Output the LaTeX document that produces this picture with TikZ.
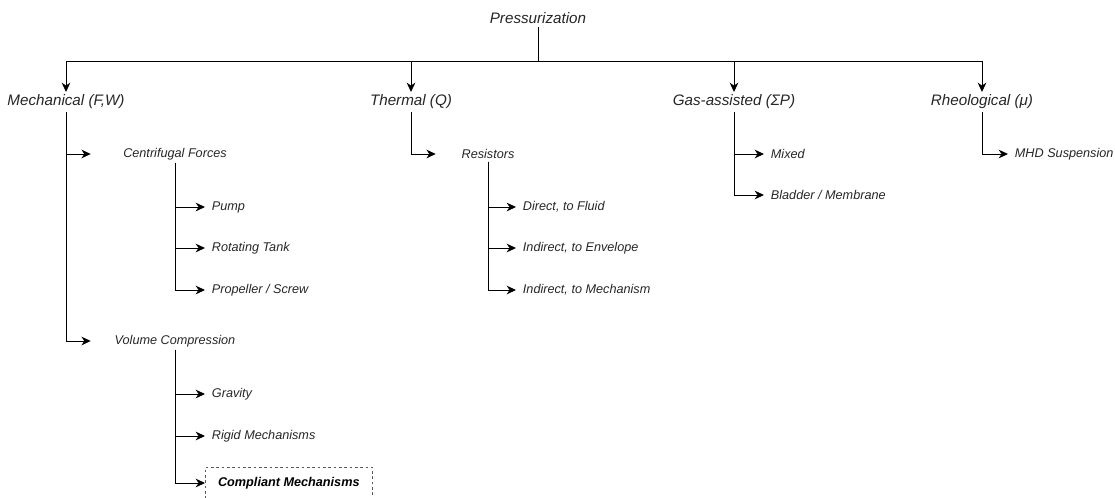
\documentclass[tikz,border=0pt]{standalone}
\usepackage{fontspec}
\setmainfont{Liberation Sans}
\usetikzlibrary{arrows.meta}

\begin{document}
\begin{tikzpicture}[x=0.75pt,y=0.75pt,yscale=-1,xscale=1,
	arr/.style={-{Stealth[length=7pt,width=6.5pt,inset=2.2pt]},line width=0.75pt},
	top/.style={font=\fontsize{11.4}{13}\selectfont\itshape,text=black!85,inner sep=2pt},
	mid/.style={font=\fontsize{9.5}{11}\selectfont\itshape,text=black!85,inner sep=2pt},
	leaf/.style={mid,anchor=west,inner xsep=5pt}]
	\useasboundingbox (0,0) rectangle (1115,497);
	
	%level 0 and 1
	\node [top] (press) at (538,18) {Pressurization};
	\coordinate (bus) at (538,61);
	\node [top] (mech) at (66,102) {Mechanical (F,W)};
	\node [top] (therm) at (411,102) {Thermal (Q)};
	\node [top] (gas) at (734,102) {Gas-assisted (ΣP)};
	\node [top] (rheo) at (982,102) {Rheological (μ)};
	
	\draw [line width=0.75pt] (press.south) -- (bus);
	\draw [arr] (bus) -| (mech.north);
	\draw [arr] (bus) -| (therm.north);
	\draw [arr] (bus) -| (gas.north);
	\draw [arr] (bus) -| (rheo.north);
	
	%mechanical
	\node [mid,minimum width=126pt] (cent) at (175,154) {Centrifugal Forces};
	\node [mid,minimum width=126pt] (volc) at (175,341) {Volume Compression};
	\draw [arr] (mech.south) |- (cent.west);
	\draw [arr] (mech.south) |- (volc.west);
	
	\node [leaf] (pump) at (205,207) {Pump};
	\node [leaf] (tank) at (205,248) {Rotating Tank};
	\node [leaf] (prop) at (205,290) {Propeller / Screw};
	\draw [arr] (cent.south) |- (pump.west);
	\draw [arr] (cent.south) |- (tank.west);
	\draw [arr] (cent.south) |- (prop.west);
	
	\node [leaf] (grav) at (205,394) {Gravity};
	\node [leaf] (rigid) at (205,436) {Rigid Mechanisms};
	\node [mid,anchor=west,draw=black!65,dash pattern=on 2pt off 2pt,line width=0.75pt,
		minimum width=125pt,minimum height=24pt,font=\fontsize{9.5}{11}\selectfont\itshape\bfseries,text=black]
		(compl) at (205,483) {Compliant Mechanisms};
	\draw [arr] (volc.south) |- (grav.west);
	\draw [arr] (volc.south) |- (rigid.west);
	\draw [arr] (volc.south) |- (compl.west);
	
	%thermal
	\node [mid,minimum width=78pt] (res) at (488,154) {Resistors};
	\draw [arr] (therm.south) |- (res.west);
	\node [leaf] (fluid) at (516,207) {Direct, to Fluid};
	\node [leaf] (env) at (516,248) {Indirect, to Envelope};
	\node [leaf] (mecha) at (516,290) {Indirect, to Mechanism};
	\draw [arr] (res.south) |- (fluid.west);
	\draw [arr] (res.south) |- (env.west);
	\draw [arr] (res.south) |- (mecha.west);
	
	%gas-assisted and rheological
	\node [leaf] (mixed) at (764,154) {Mixed};
	\node [leaf] (blad) at (764,195) {Bladder / Membrane};
	\draw [arr] (gas.south) |- (mixed.west);
	\draw [arr] (gas.south) |- (blad.west);
	
	\node [leaf] (mhd) at (1008,154) {MHD Suspension};
	\draw [arr] (rheo.south) |- (mhd.west);
	
\end{tikzpicture}
\end{document}
